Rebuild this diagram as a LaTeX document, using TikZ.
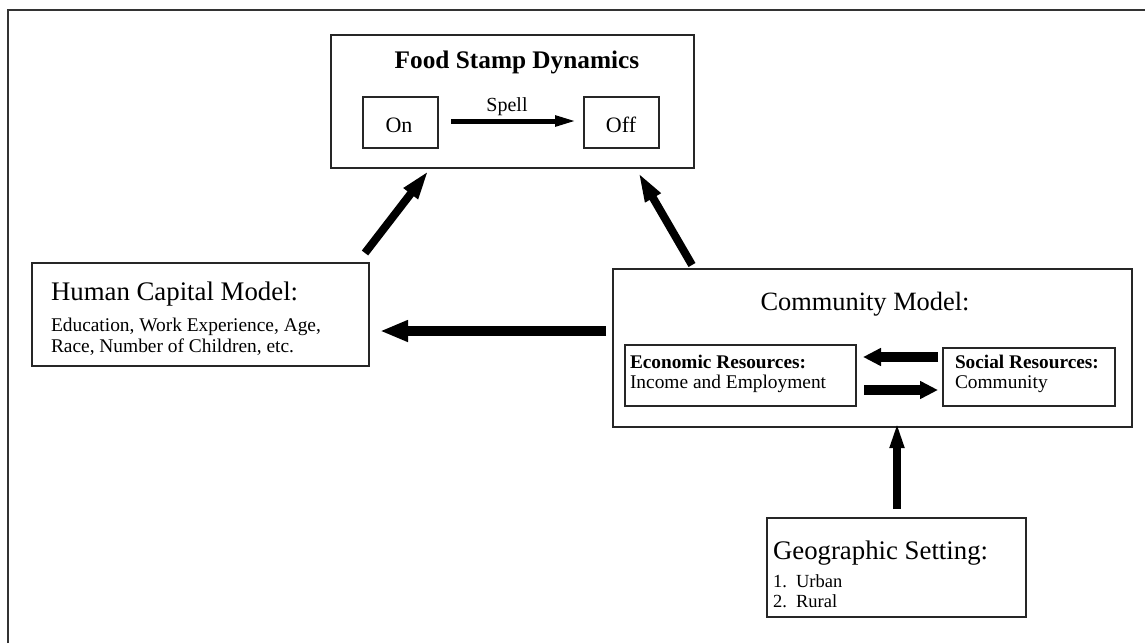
\documentclass[tikz,border=0pt]{standalone}
\usepackage{fontspec}
\setmainfont{Liberation Serif}
\usetikzlibrary{arrows.meta}
\begin{document}
\begin{tikzpicture}[x=1pt,y=-1pt,
  box/.style={draw=black!85,line width=1.2pt,inner sep=0pt,outer sep=0pt,anchor=north west},
  txt/.style={inner sep=0pt,outer sep=0pt,anchor=base west},
  ctxt/.style={inner sep=0pt,outer sep=0pt,anchor=base},
  headfont/.style={font=\fontsize{26.8}{30}\selectfont},
  bodyfont/.style={font=\fontsize{19.4}{22}\selectfont},
  boldbody/.style={font=\bfseries\fontsize{19.3}{22}\selectfont},
  listfont/.style={font=\fontsize{18.5}{22}\selectfont},
  bigarrow/.style={line width=10pt,-{Triangle[length=28pt,width=20pt]}},
  diagarrow/.style={line width=8pt,-{Triangle[length=30pt,width=16pt]}},
  midarrow/.style={line width=10pt,-{Triangle[length=18pt,width=17pt]}},
  geoarrow/.style={line width=7.5pt,-{Triangle[length=26pt,width=13pt]}},
  spellarrow/.style={line width=5pt,-{Triangle[length=22pt,width=10pt]}}
  ]
\useasboundingbox (0,0) rectangle (1145,643);
% outer frame
\draw[line width=2pt,black!80] (8,643) -- (8,10) -- (1145,10);

% boxes
\node[box,minimum width=363pt,minimum height=133pt] (fsd) at (331,35) {};
\node[box,minimum width=75pt,minimum height=51pt] (on) at (363,97) {};
\node[box,minimum width=75pt,minimum height=51pt] (off) at (584,97) {};
\node[box,minimum width=337pt,minimum height=103pt] (hc) at (32,263) {};
\node[box,minimum width=519pt,minimum height=158pt] (comm) at (613,269) {};
\node[box,minimum width=231pt,minimum height=61pt] (econ) at (625,345) {};
\node[box,minimum width=172pt,minimum height=58pt] (soc) at (943,348) {};
\node[box,minimum width=259pt,minimum height=99pt] (geo) at (767,518) {};

% texts
\node[ctxt,font=\bfseries\fontsize{25.3}{30}\selectfont] (fsdt) at (517,68) {Food Stamp Dynamics};
\node[ctxt,font=\fontsize{22}{26}\selectfont] (ont) at (399,132) {On};
\node[ctxt,font=\fontsize{22}{26}\selectfont] (offt) at (621,132) {Off};
\node[ctxt,font=\fontsize{20}{24}\selectfont] (spellt) at (507,111) {Spell};

\node[txt,headfont] (hct) at (51,300) {Human Capital Model:};
\node[txt,bodyfont] (hc1) at (51,331) {Education, Work Experience, Age,};
\node[txt,bodyfont] (hc2) at (51,352) {Race, Number of Children, etc.};

\node[ctxt,font=\fontsize{26.4}{30}\selectfont] (commt) at (865,310) {Community Model:};
\node[txt,boldbody] (econt) at (630,368) {Economic Resources:};
\node[txt,bodyfont] (econ1) at (630,388) {Income and Employment};
\node[txt,boldbody] (soct) at (955,368) {Social Resources:};
\node[txt,bodyfont] (soc1) at (955,388) {Community};

\node[txt,headfont] (geot) at (773,559) {Geographic Setting:};
\node[txt,listfont] (geo1) at (773,587) {1.\ \ Urban};
\node[txt,listfont] (geo2) at (773,607) {2.\ \ Rural};

% connectors
\draw[spellarrow] ([xshift=13pt,yshift=1.5pt]on.east) -- ([xshift=-7pt,yshift=1.5pt]off.west);
\draw[bigarrow] ([xshift=-7pt,yshift=17pt]comm.west) -- ([xshift=11pt,yshift=-16.5pt]hc.east);
\draw[diagarrow] ([xshift=-4pt,yshift=10pt]hc.north east) -- ([xshift=98pt,yshift=-2pt]fsd.south west);
\draw[diagarrow] ([xshift=79pt,yshift=4pt]comm.north west) -- ([xshift=-56pt,yshift=-4pt]fsd.south east);
\draw[geoarrow] ([xshift=0.5pt,yshift=9pt]geo.north) -- ([xshift=24.5pt,yshift=5pt]comm.south);
\draw[midarrow] ([xshift=-5pt,yshift=20pt]soc.west) -- ([xshift=7pt,yshift=18.5pt]econ.east);
\draw[midarrow] ([xshift=8pt,yshift=-14.5pt]econ.east) -- ([xshift=-5pt,yshift=-13pt]soc.west);
\end{tikzpicture}
\end{document}
